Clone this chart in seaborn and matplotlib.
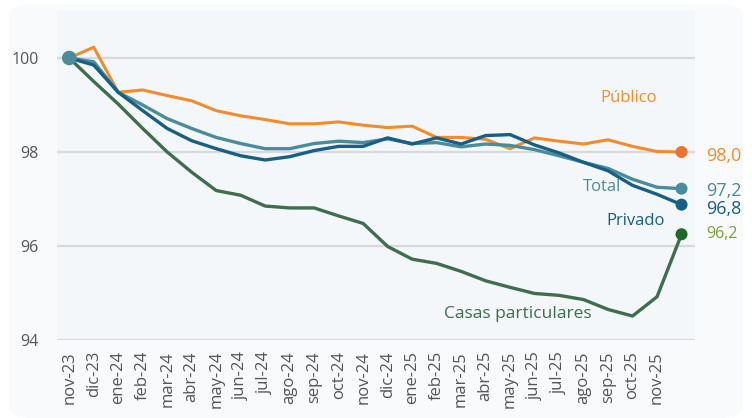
import matplotlib
matplotlib.use("Agg")
import matplotlib.pyplot as plt
import seaborn as sns
import pandas as pd
from matplotlib.patches import FancyBboxPatch

months = ["nov-23", "dic-23", "ene-24", "feb-24", "mar-24", "abr-24", "may-24", "jun-24",
          "jul-24", "ago-24", "sep-24", "oct-24", "nov-24", "dic-24", "ene-25", "feb-25",
          "mar-25", "abr-25", "may-25", "jun-25", "jul-25", "ago-25", "sep-25", "oct-25",
          "nov-25", "dic-25"]
tick_labels = months[:-1]

publico = [100.0, 100.23, 99.27, 99.32, 99.2, 99.09, 98.88, 98.77, 98.69, 98.6, 98.6, 98.64,
           98.57, 98.52, 98.55, 98.31, 98.31, 98.27, 98.07, 98.3, 98.23, 98.17, 98.26, 98.12,
           98.01, 98.0]
total = [100.0, 99.92, 99.27, 99.0, 98.71, 98.5, 98.31, 98.18, 98.07, 98.07, 98.18, 98.23,
         98.2, 98.28, 98.18, 98.2, 98.11, 98.17, 98.14, 98.05, 97.92, 97.78, 97.65, 97.42,
         97.25, 97.22]
privado = [100.0, 99.85, 99.27, 98.88, 98.5, 98.24, 98.07, 97.92, 97.83, 97.9, 98.03, 98.12,
           98.12, 98.3, 98.17, 98.3, 98.17, 98.35, 98.37, 98.15, 97.98, 97.78, 97.6, 97.29,
           97.1, 96.88]
casas = [100.0, 99.5, 99.02, 98.5, 98.0, 97.57, 97.18, 97.08, 96.85, 96.81, 96.81, 96.64,
         96.48, 95.99, 95.72, 95.63, 95.46, 95.26, 95.12, 94.99, 94.95, 94.86, 94.65, 94.51,
         94.92, 96.25]

series_names = ["Público", "Total", "Privado", "Casas particulares"]
end_labels = ["98,0", "97,2", "96,8", "96,2"]

line_colors = {"Público": "#f28b2c", "Total": "#4a8d9a", "Privado": "#175f86",
               "Casas particulares": "#3e6e4e"}
dot_colors = {"Público": "#ea7233", "Total": "#4a8d9a", "Privado": "#175f86",
              "Casas particulares": "#1f6b25"}
label_colors = {"Público": "#f28b2c", "Total": "#4a8d9a", "Privado": "#175f86",
                "Casas particulares": "#7d9e3c"}

df = pd.DataFrame({"idx": list(range(len(months))) * 4,
                   "value": publico + total + privado + casas,
                   "serie": sum([[n] * len(months) for n in series_names], [])})

sns.set_theme(style="white")
plt.rcParams["font.family"] = ["Open Sans", "DejaVu Sans"]

fig = plt.figure(figsize=(7.52, 4.18), dpi=100)
fig.patch.set_facecolor("white")

bg = fig.add_axes([0, 0, 1, 1], zorder=-10)
bg.set_axis_off()
bg.set_xlim(0, 1)
bg.set_ylim(0, 1)
bg.add_patch(FancyBboxPatch((0.012, 0.0), 0.976, 0.99,
                            boxstyle="round,pad=0,rounding_size=0.03",
                            facecolor="#f8fafc", edgecolor="none"))

ax = fig.add_axes([0.0758, 0.1866, 0.8484, 0.7871], zorder=1)
ax.set_facecolor("#f3f7f9")

for y in [94, 96, 98, 100]:
    ax.axhline(y, color="#d8d9dc", lw=1.6, zorder=1)

order = ["Casas particulares", "Público", "Total", "Privado"]
for name in order:
    sub = df[df["serie"] == name]
    sns.lineplot(data=sub, x="idx", y="value", ax=ax, color=line_colors[name],
                 lw=2.4 if name != "Público" else 2.2, zorder=3, legend=False)
    last = sub.iloc[-1]
    ax.scatter([last["idx"]], [last["value"]], s=75, color=dot_colors[name], zorder=5,
               edgecolor="none", clip_on=False)

ax.scatter([0], [total[0]], s=110, color=dot_colors["Total"], zorder=6, edgecolor="none")

offsets = {"Público": -3, "Total": -2, "Privado": -3, "Casas particulares": 0}
for name, lab in zip(series_names, end_labels):
    val = df[df["serie"] == name]["value"].iloc[-1]
    ax.annotate(lab, xy=(25, val), xytext=(18, offsets[name]), textcoords="offset points",
                va="center", ha="left", color=label_colors[name],
                fontsize=13 if name != "Casas particulares" else 11.5,
                annotation_clip=False)

ax.text(24.0, 99.15, "Público", color=line_colors["Público"], fontsize=12, ha="right", va="center")
ax.text(22.55, 97.26, "Total", color=line_colors["Total"], fontsize=12, ha="right", va="center")
ax.text(24.3, 96.53, "Privado", color=line_colors["Privado"], fontsize=12, ha="right", va="center")
ax.text(18.3, 94.56, "Casas particulares", color=line_colors["Casas particulares"],
        fontsize=12.5, ha="center", va="center")

ax.set_xlim(-0.5, 25.55)
ax.set_ylim(94, 101)
ax.set_yticks([94, 96, 98, 100])
ax.set_yticklabels(["94", "96", "98", "100"], fontsize=11.5, color="#555555")
ax.set_xticks(range(len(tick_labels)))
ax.set_xticklabels(tick_labels, rotation=90, fontsize=12, color="#555555")
ax.tick_params(axis="y", length=0, pad=13)
ax.tick_params(axis="x", length=0, pad=8)
ax.set_xlabel("")
ax.set_ylabel("")
for s in ax.spines.values():
    s.set_visible(False)

fig.savefig("out.png", dpi=100, facecolor=fig.get_facecolor())
